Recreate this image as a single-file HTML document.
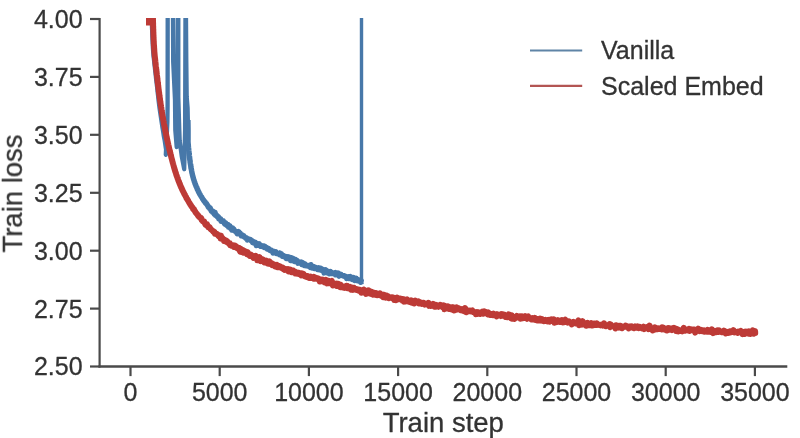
<!DOCTYPE html>
<html><head><meta charset="utf-8"><title>Train loss</title>
<style>
html,body{margin:0;padding:0;background:#fff;}
body{width:800px;height:438px;overflow:hidden;position:relative;font-family:"Liberation Sans",sans-serif;}
</style></head><body>
<svg width="800" height="438" viewBox="0 0 800 438" style="position:absolute;left:0;top:0;filter:blur(0.45px)">
<defs><clipPath id="c"><rect x="99.6" y="18.1" width="687.6999999999999" height="348.4"/></clipPath></defs>
<rect width="800" height="438" fill="#ffffff"/>
<g clip-path="url(#c)" fill="none" stroke-linejoin="round" stroke-linecap="butt">
<path d="M151.8,4.0 L151.8,8.0 L151.8,12.0 L151.8,16.0 L151.8,20.0 L151.9,24.0 L152.0,28.0 L152.2,32.0 L152.3,36.0 L152.5,40.0 L152.7,44.0 L152.9,48.0 L153.2,52.0 L153.5,56.0 L154.0,60.0 L154.4,64.0 L154.9,68.0 L155.3,72.0 L155.8,76.0 L156.2,80.0 L156.7,84.0 L157.2,88.0 L157.6,92.0 L158.1,96.0 L158.5,100.0 L159.0,104.0 L159.5,108.0 L160.1,112.0 L160.7,116.0 L161.3,120.0 L161.9,124.0 L162.5,128.0 L163.2,132.0 L163.8,136.0 L164.6,140.0 L165.2,144.0 L165.8,148.0 L166.5,152.0 L165.8,154.8 L167.4,122.0 L167.6,105.0 L167.7,4.0 L172.9,4.0 L173.2,62.0 L175.0,100.0 L175.3,130.0 L176.7,147.0 L177.9,4.0 L178.3,4.0 L178.3,97.0 L179.3,130.0 L179.7,141.0 L181.7,156.0 L184.2,169.2 L185.1,130.0 L185.5,4.0 L185.9,4.0 L186.3,62.0 L186.7,97.0 L187.6,108.0 L188.0,128.0 L188.0,140.0" stroke="#4778a9" stroke-width="4.3"/>
<path d="M187.9,120.0 L188.0,130.0 L188.0,142.3 L188.1,143.0 L188.1,143.5 L188.2,144.0 L188.2,144.7 L188.3,145.1 L188.3,145.9 L188.4,146.5 L188.4,147.1 L188.5,147.7 L188.6,148.2 L188.6,148.8 L188.7,149.3 L188.7,149.8 L188.8,150.6 L188.9,151.2 L188.9,151.7 L189.0,152.4 L189.0,153.0 L189.1,153.6 L189.2,154.1 L189.2,154.6 L189.3,155.4 L189.4,156.0 L189.5,156.5 L189.5,157.1 L189.6,157.7 L189.7,158.3 L189.7,158.9 L189.8,159.3 L189.9,160.2 L190.0,160.5 L190.1,161.2 L190.1,161.8 L190.2,162.5 L190.3,162.9 L190.4,163.7 L190.5,164.3 L190.6,164.9 L190.7,165.5 L190.8,165.9 L190.8,166.3 L190.9,167.2 L191.0,167.9 L191.1,168.4 L191.3,168.9 L191.4,169.5 L191.5,170.1 L191.6,170.5 L191.7,171.2 L191.8,171.8 L191.9,172.6 L192.0,172.9 L192.2,173.7 L192.3,174.1 L192.4,174.6 L192.6,175.5 L192.7,175.8 L192.9,176.5 L193.0,177.2 L193.2,177.5 L193.3,178.0 L193.5,178.8 L193.6,179.3 L193.8,179.8 L194.0,180.3 L194.2,181.0 L194.4,181.7 L194.6,182.1 L194.8,182.7 L195.0,183.4 L195.2,183.9 L195.4,184.5 L195.6,185.0 L195.8,185.3 L196.0,186.1 L196.2,186.6 L196.5,187.1 L196.7,187.6 L196.9,188.1 L197.2,188.7 L197.4,189.3 L197.7,189.7 L197.9,190.3 L198.2,190.9 L198.4,191.5 L198.7,192.0 L199.0,192.5 L199.3,193.2 L199.5,193.5 L199.8,194.2 L200.1,194.5 L200.4,195.2 L200.7,195.7 L201.0,196.2 L201.3,196.6 L201.6,197.0 L201.9,197.6 L202.3,198.1 L202.6,198.9 L202.9,199.4 L203.2,199.4 L203.6,200.3 L203.9,200.6 L204.3,201.3 L204.6,201.5 L205.0,201.7 L205.3,202.9 L205.7,203.2 L206.0,203.2 L206.4,203.5 L206.8,204.3 L207.1,204.6 L207.5,205.3 L207.9,206.1 L208.3,206.9 L208.6,206.7 L209.0,207.8 L209.4,208.2 L209.8,208.1 L210.2,208.0 L210.6,209.5 L211.0,209.8 L211.3,211.1 L211.7,211.1 L212.1,211.3 L212.5,212.2 L212.9,211.3 L213.4,212.3 L213.8,212.6 L214.2,214.0 L214.6,213.9 L215.0,212.4 L215.4,215.2 L215.8,214.3 L216.3,215.7 L216.7,215.4 L217.1,216.3 L217.5,216.9 L218.0,217.1 L218.4,216.8 L218.8,218.7 L219.3,218.4 L219.7,218.6 L220.2,219.5 L220.6,219.0 L221.0,221.1 L221.5,220.4 L221.9,220.9 L222.4,221.3 L222.8,220.7 L223.3,220.9 L223.7,222.3 L224.2,222.8 L224.7,224.0 L225.1,223.7 L225.6,222.8 L226.1,224.5 L226.5,225.1 L227.0,225.6 L227.5,225.5 L227.9,224.6 L228.4,226.9 L228.9,225.7 L229.4,227.1 L229.8,225.8 L230.3,228.0 L230.8,227.1 L231.3,229.0 L231.8,229.9 L232.2,229.7 L232.7,228.2 L233.2,228.8 L233.7,229.2 L234.2,230.7 L234.7,230.8 L235.2,231.0 L235.7,231.5 L236.2,232.0 L236.7,232.4 L237.2,233.6 L237.7,232.5 L238.2,233.0 L238.7,231.7 L239.2,232.5 L239.7,233.3 L240.2,233.2 L240.7,234.7 L241.2,235.6 L241.7,234.8 L242.2,235.1 L242.7,235.3 L243.2,236.2 L243.8,235.9 L244.3,237.0 L244.8,237.2 L245.3,237.6 L245.8,238.2 L246.3,237.9 L246.9,238.3 L247.4,239.9 L247.9,238.8 L248.4,239.7 L248.9,239.4 L249.5,239.3 L250.0,239.6 L250.5,239.6 L251.0,240.6 L251.6,240.4 L252.1,240.8 L252.6,242.4 L253.1,241.6 L253.7,242.9 L254.2,242.5 L254.7,243.2 L255.3,242.3 L255.8,243.2 L256.3,245.5 L256.8,244.3 L257.4,244.7 L257.9,244.4 L258.4,245.2 L259.0,243.8 L259.5,244.4 L260.0,245.6 L260.6,246.2 L261.1,245.5 L261.7,246.0 L262.2,246.1 L262.7,246.5 L263.3,245.9 L263.8,246.0 L264.3,247.4 L264.9,246.3 L265.4,247.2 L266.0,247.7 L266.5,247.6 L267.1,248.9 L267.6,248.6 L268.1,249.2 L268.7,248.7 L269.2,249.1 L269.8,250.4 L270.3,250.5 L270.9,250.1 L271.4,251.0 L271.9,251.1 L272.5,251.4 L273.0,252.8 L273.6,251.4 L274.1,252.3 L274.7,252.6 L275.2,252.3 L275.8,251.8 L276.3,253.5 L276.9,253.4 L277.4,253.5 L278.0,253.7 L278.5,253.9 L279.1,253.4 L279.6,254.6 L280.2,253.2 L280.7,254.8 L281.3,253.9 L281.8,255.0 L282.4,256.1 L282.9,255.6 L283.5,255.6 L284.0,256.7 L284.6,256.3 L285.1,256.4 L285.7,256.6 L286.3,258.4 L286.8,257.9 L287.4,258.0 L287.9,256.9 L288.5,258.6 L289.0,257.2 L289.6,258.9 L290.2,257.8 L290.7,260.5 L291.3,257.8 L291.8,260.4 L292.4,260.2 L292.9,258.4 L293.5,259.8 L294.1,261.4 L294.6,261.4 L295.2,259.3 L295.7,260.5 L296.3,260.2 L296.9,260.5 L297.4,261.0 L298.0,263.2 L298.6,262.0 L299.1,262.0 L299.7,262.1 L300.2,263.1 L300.8,263.3 L301.4,262.2 L301.9,264.4 L302.5,262.5 L303.1,263.4 L303.6,264.1 L304.2,265.4 L304.8,263.9 L305.3,264.6 L305.9,265.6 L306.5,265.3 L307.0,265.9 L307.6,266.0 L308.2,265.6 L308.7,266.1 L309.3,266.5 L309.9,265.9 L310.4,267.4 L311.0,264.8 L311.6,265.8 L312.1,267.9 L312.7,267.3 L313.3,266.6 L313.8,267.6 L314.4,268.4 L315.0,267.2 L315.5,268.5 L316.1,268.0 L316.7,268.1 L317.3,268.4 L317.8,269.5 L318.4,267.9 L319.0,268.7 L319.5,269.7 L320.1,268.4 L320.7,268.3 L321.3,270.2 L321.8,269.9 L322.4,269.9 L323.0,270.4 L323.5,269.6 L324.1,272.9 L324.7,270.0 L325.3,270.6 L325.8,270.0 L326.4,271.0 L327.0,272.7 L327.6,271.7 L328.1,272.3 L328.7,271.6 L329.3,273.6 L329.9,272.5 L330.4,271.5 L331.0,273.3 L331.6,272.5 L332.2,273.5 L332.7,273.3 L333.3,273.5 L333.9,273.6 L334.5,272.9 L335.1,272.6 L335.6,274.8 L336.2,274.0 L336.8,274.5 L337.4,274.1 L337.9,273.0 L338.5,273.8 L339.1,276.1 L339.7,274.5 L340.3,275.0 L340.8,274.3 L341.4,275.2 L342.0,275.5 L342.6,275.7 L343.1,276.0 L343.7,275.7 L344.3,275.9 L344.9,276.5 L345.5,276.9 L346.0,276.7 L346.6,278.4 L347.2,277.3 L347.8,277.4 L348.4,276.9 L348.9,278.4 L349.5,276.9 L350.1,276.6 L350.7,277.3 L351.3,278.7 L351.9,277.4 L352.4,279.5 L353.0,278.6 L353.6,277.6 L354.2,278.7 L354.8,280.5 L355.3,278.5 L355.9,278.3 L356.5,279.9 L357.1,280.7 L357.7,280.6 L358.3,279.7 L358.8,280.2 L359.4,280.5 L360.0,281.3 L360.6,282.2 L361.2,280.5 L361.3,281.7 L363.2,281.3" stroke="#4778a9" stroke-width="5.5"/>
<path d="M361.5,283.6 L361.5,4" stroke="#4778a9" stroke-width="3.4"/>
<path d="M152.7,4.0 L152.9,14.0 L153.0,21.3 L153.0,22.0 L153.0,22.6 L153.1,23.0 L153.1,23.6 L153.1,24.2 L153.1,24.9 L153.1,25.4 L153.1,26.1 L153.2,26.5 L153.2,27.4 L153.2,27.8 L153.2,28.5 L153.2,29.0 L153.3,29.6 L153.3,30.3 L153.3,30.9 L153.3,31.4 L153.3,32.0 L153.4,32.7 L153.4,33.1 L153.4,33.7 L153.4,34.5 L153.5,35.0 L153.5,35.4 L153.5,36.1 L153.5,36.8 L153.6,37.3 L153.6,37.9 L153.6,38.6 L153.6,39.3 L153.7,39.8 L153.7,40.3 L153.7,41.0 L153.8,41.7 L153.8,42.2 L153.8,42.9 L153.8,43.5 L153.9,44.0 L153.9,44.5 L153.9,45.2 L154.0,45.8 L154.0,46.5 L154.1,46.8 L154.1,47.5 L154.1,48.1 L154.2,48.6 L154.2,49.4 L154.3,50.0 L154.3,50.5 L154.3,51.3 L154.4,51.8 L154.4,52.4 L154.5,52.9 L154.5,53.6 L154.6,53.9 L154.6,54.7 L154.7,55.3 L154.7,55.7 L154.8,56.5 L154.9,57.0 L154.9,57.7 L155.0,58.2 L155.1,58.8 L155.1,59.4 L155.2,59.9 L155.3,60.7 L155.3,61.2 L155.4,61.8 L155.5,62.3 L155.5,63.1 L155.6,63.6 L155.7,64.2 L155.7,64.8 L155.8,65.5 L155.9,66.1 L155.9,66.4 L156.0,67.2 L156.1,67.8 L156.1,68.3 L156.2,68.8 L156.3,69.7 L156.4,70.0 L156.4,70.8 L156.5,71.5 L156.6,71.8 L156.6,72.5 L156.7,73.0 L156.8,73.7 L156.8,74.5 L156.9,75.1 L157.0,75.3 L157.0,76.0 L157.1,76.8 L157.2,77.4 L157.3,77.9 L157.3,78.4 L157.4,79.1 L157.5,79.7 L157.5,80.2 L157.6,80.8 L157.7,81.5 L157.7,82.1 L157.8,82.6 L157.9,83.2 L158.0,83.7 L158.0,84.4 L158.1,85.1 L158.2,85.6 L158.3,86.1 L158.3,86.9 L158.4,87.4 L158.5,88.2 L158.5,88.6 L158.6,89.1 L158.7,89.6 L158.8,90.5 L158.8,91.2 L158.9,91.5 L159.0,92.1 L159.1,92.8 L159.2,93.2 L159.2,93.9 L159.3,94.5 L159.4,95.1 L159.5,95.8 L159.6,96.3 L159.6,97.0 L159.7,97.4 L159.8,98.1 L159.9,98.4 L160.0,99.1 L160.0,99.9 L160.1,100.4 L160.2,101.1 L160.3,101.7 L160.4,102.4 L160.5,102.9 L160.6,103.5 L160.6,104.0 L160.7,104.5 L160.8,105.1 L160.9,105.7 L161.0,106.2 L161.1,106.9 L161.2,107.5 L161.3,108.2 L161.4,108.7 L161.5,109.1 L161.6,109.9 L161.7,110.5 L161.8,111.2 L161.9,111.7 L161.9,112.2 L162.0,112.8 L162.1,113.7 L162.2,114.1 L162.3,114.8 L162.4,115.4 L162.5,115.7 L162.6,116.4 L162.8,117.0 L162.9,117.6 L163.0,118.2 L163.1,118.8 L163.2,119.4 L163.3,119.8 L163.4,120.5 L163.5,121.0 L163.6,121.7 L163.7,122.2 L163.8,122.9 L163.9,123.5 L164.0,124.1 L164.2,124.7 L164.3,125.2 L164.4,125.8 L164.5,126.4 L164.6,126.9 L164.7,127.6 L164.8,128.2 L165.0,128.8 L165.1,129.2 L165.2,130.0 L165.3,130.4 L165.4,131.0 L165.5,131.7 L165.7,132.2 L165.8,132.9 L165.9,133.4 L166.0,133.9 L166.1,134.5 L166.3,135.3 L166.4,135.8 L166.5,136.3 L166.6,137.0 L166.8,137.4 L166.9,138.3 L167.0,138.6 L167.1,139.4 L167.3,139.9 L167.4,140.3 L167.5,141.1 L167.7,141.8 L167.8,142.3 L167.9,142.8 L168.0,143.5 L168.2,144.0 L168.3,144.6 L168.4,145.1 L168.6,145.8 L168.7,146.2 L168.8,147.0 L169.0,147.4 L169.1,148.0 L169.2,148.7 L169.4,149.4 L169.5,149.9 L169.7,150.4 L169.8,151.1 L169.9,151.5 L170.1,152.1 L170.2,152.7 L170.4,153.1 L170.5,153.9 L170.6,154.4 L170.8,155.0 L170.9,155.5 L171.1,156.1 L171.2,156.7 L171.4,157.5 L171.5,158.1 L171.7,158.5 L171.8,159.2 L172.0,159.7 L172.1,160.1 L172.3,160.9 L172.4,161.5 L172.6,162.0 L172.7,162.6 L172.9,163.2 L173.1,163.7 L173.2,164.2 L173.4,164.9 L173.5,165.4 L173.7,166.0 L173.9,166.7 L174.0,167.4 L174.2,167.7 L174.4,168.4 L174.5,169.0 L174.7,169.6 L174.9,170.2 L175.1,170.6 L175.2,171.3 L175.4,172.0 L175.6,172.4 L175.8,172.8 L176.0,173.5 L176.1,174.2 L176.3,174.7 L176.5,175.1 L176.7,175.9 L176.9,176.2 L177.1,176.9 L177.3,177.4 L177.5,177.9 L177.7,178.7 L177.9,179.2 L178.1,179.6 L178.3,180.3 L178.5,180.8 L178.7,181.2 L178.9,181.8 L179.2,182.5 L179.4,183.1 L179.6,183.6 L179.8,184.1 L180.1,184.7 L180.3,185.2 L180.5,185.9 L180.8,186.3 L181.0,186.9 L181.2,187.5 L181.5,187.9 L181.7,188.4 L182.0,189.2 L182.2,189.6 L182.5,190.1 L182.7,190.7 L183.0,191.2 L183.3,191.8 L183.5,192.2 L183.8,192.8 L184.1,193.2 L184.3,194.0 L184.6,194.4 L184.9,194.8 L185.2,195.5 L185.5,196.0 L185.7,196.5 L186.0,196.9 L186.3,197.6 L186.6,198.5 L186.9,198.5 L187.2,199.2 L187.5,199.6 L187.8,200.2 L188.1,200.5 L188.4,201.1 L188.7,201.8 L189.0,202.2 L189.3,202.9 L189.6,203.2 L190.0,203.8 L190.3,204.6 L190.6,204.7 L190.9,205.2 L191.2,205.8 L191.6,206.3 L191.9,206.9 L192.2,207.3 L192.6,207.6 L192.9,208.3 L193.2,209.2 L193.6,209.5 L193.9,209.2 L194.3,210.2 L194.6,210.5 L195.0,211.3 L195.3,211.6 L195.7,212.6 L196.0,212.9 L196.4,213.3 L196.8,213.6 L197.1,214.1 L197.5,214.6 L197.9,215.4 L198.2,215.6 L198.6,215.8 L199.0,216.8 L199.4,216.9 L199.7,217.3 L200.1,217.5 L200.5,218.1 L200.9,218.5 L201.3,218.2 L201.7,220.0 L202.1,220.3 L202.5,220.4 L202.9,221.4 L203.3,221.6 L203.7,222.0 L204.1,221.3 L204.5,222.6 L204.9,223.4 L205.3,224.3 L205.7,224.8 L206.1,225.1 L206.5,224.4 L207.0,224.3 L207.4,226.0 L207.8,226.2 L208.2,227.1 L208.7,226.9 L209.1,227.5 L209.5,227.1 L210.0,228.5 L210.4,228.4 L210.8,229.3 L211.3,229.7 L211.7,229.8 L212.2,230.5 L212.6,230.7 L213.1,231.5 L213.5,231.8 L214.0,231.5 L214.4,231.9 L214.9,233.7 L215.3,233.0 L215.8,234.1 L216.3,234.0 L216.7,233.8 L217.2,234.0 L217.6,235.0 L218.1,235.5 L218.6,236.1 L219.1,235.1 L219.5,236.0 L220.0,236.7 L220.5,238.3 L221.0,235.7 L221.4,238.2 L221.9,237.8 L222.4,238.9 L222.9,238.5 L223.4,239.6 L223.9,240.9 L224.3,240.3 L224.8,240.7 L225.3,241.0 L225.8,240.4 L226.3,241.8 L226.8,241.5 L227.3,241.3 L227.8,242.3 L228.3,242.5 L228.8,243.6 L229.3,243.3 L229.8,243.2 L230.3,245.2 L230.8,245.1 L231.3,245.7 L231.8,245.4 L232.3,245.1 L232.9,245.2 L233.4,245.6 L233.9,247.0 L234.4,246.6 L234.9,245.5 L235.4,247.1 L235.9,246.2 L236.5,247.8 L237.0,247.0 L237.5,247.2 L238.0,248.7 L238.5,248.8 L239.1,247.8 L239.6,250.1 L240.1,251.6 L240.6,248.8 L241.2,251.9 L241.7,250.0 L242.2,250.5 L242.8,251.0 L243.3,250.2 L243.8,252.8 L244.4,252.4 L244.9,251.7 L245.4,252.3 L246.0,251.6 L246.5,252.8 L247.0,254.2 L247.6,252.2 L248.1,253.5 L248.6,254.3 L249.2,255.3 L249.7,255.9 L250.3,254.6 L250.8,254.6 L251.3,255.9 L251.9,255.4 L252.4,255.7 L253.0,257.2 L253.5,257.9 L254.1,257.0 L254.6,256.8 L255.1,257.7 L255.7,255.9 L256.2,257.7 L256.8,257.1 L257.3,260.3 L257.9,259.1 L258.4,258.8 L259.0,258.8 L259.5,257.1 L260.1,260.0 L260.6,261.1 L261.2,259.3 L261.7,260.7 L262.3,261.0 L262.8,259.3 L263.4,261.6 L263.9,262.2 L264.5,261.5 L265.1,261.5 L265.6,262.4 L266.2,260.7 L266.7,262.3 L267.3,263.3 L267.8,261.6 L268.4,263.7 L268.9,262.7 L269.5,261.5 L270.1,263.4 L270.6,262.9 L271.2,264.2 L271.7,263.2 L272.3,265.3 L272.9,264.0 L273.4,265.1 L274.0,264.5 L274.5,265.0 L275.1,266.5 L275.7,265.9 L276.2,265.5 L276.8,265.0 L277.4,267.3 L277.9,267.1 L278.5,266.4 L279.0,267.1 L279.6,266.2 L280.2,266.5 L280.7,266.8 L281.3,268.0 L281.9,268.2 L282.4,267.5 L283.0,268.9 L283.6,269.2 L284.1,268.9 L284.7,269.8 L285.3,268.9 L285.8,269.2 L286.4,269.9 L287.0,269.7 L287.5,270.6 L288.1,269.0 L288.7,271.5 L289.2,269.8 L289.8,270.5 L290.4,269.7 L290.9,271.6 L291.5,272.3 L292.1,272.3 L292.7,272.3 L293.2,270.5 L293.8,271.3 L294.4,271.8 L294.9,271.6 L295.5,273.5 L296.1,272.9 L296.7,272.9 L297.2,273.5 L297.8,272.5 L298.4,272.7 L298.9,272.9 L299.5,274.2 L300.1,274.3 L300.7,274.7 L301.2,275.3 L301.8,273.4 L302.4,274.2 L302.9,275.0 L303.5,273.9 L304.1,274.8 L304.7,276.3 L305.2,276.5 L305.8,276.7 L306.4,276.0 L307.0,275.9 L307.5,277.2 L308.1,276.2 L308.7,276.9 L309.3,277.9 L309.8,276.7 L310.4,276.6 L311.0,277.3 L311.6,278.0 L312.1,278.1 L312.7,278.0 L313.3,278.5 L313.9,276.8 L314.4,277.6 L315.0,278.7 L315.6,277.9 L316.2,277.7 L316.7,278.0 L317.3,278.4 L317.9,279.2 L318.5,278.6 L319.0,279.9 L319.6,281.3 L320.2,279.9 L320.8,281.3 L321.4,280.6 L321.9,279.5 L322.5,280.4 L323.1,280.0 L323.7,281.6 L324.2,280.2 L324.8,282.4 L325.4,282.0 L326.0,279.9 L326.6,282.5 L327.1,283.3 L327.7,281.4 L328.3,283.1 L328.9,280.9 L329.4,282.8 L330.0,281.3 L330.6,283.3 L331.2,281.5 L331.8,281.0 L332.3,283.7 L332.9,285.5 L333.5,283.2 L334.1,284.6 L334.7,284.1 L335.2,283.9 L335.8,284.8 L336.4,285.9 L337.0,283.6 L337.6,285.3 L338.1,285.2 L338.7,283.9 L339.3,286.6 L339.9,287.0 L340.5,284.7 L341.0,287.2 L341.6,285.9 L342.2,285.9 L342.8,287.4 L343.4,286.5 L343.9,286.7 L344.5,287.9 L345.1,287.8 L345.7,287.6 L346.3,285.8 L346.8,285.8 L347.4,288.3 L348.0,286.7 L348.6,287.7 L349.2,286.9 L349.8,287.8 L350.3,287.0 L350.9,289.6 L351.5,287.5 L352.1,288.4 L352.7,288.5 L353.2,289.8 L353.8,287.7 L354.4,289.0 L355.0,289.0 L355.6,289.8 L356.2,289.9 L356.7,289.2 L357.3,290.0 L357.9,289.6 L358.5,290.5 L359.1,290.1 L359.7,289.8 L360.2,290.5 L360.8,290.9 L361.4,292.7 L362.0,290.5 L362.6,291.3 L363.2,292.4 L363.7,289.5 L364.3,290.0 L364.9,290.6 L365.5,291.6 L366.1,293.9 L366.7,292.3 L367.3,293.2 L367.8,292.1 L368.4,290.3 L369.0,290.6 L369.6,293.5 L370.2,293.0 L370.8,291.8 L371.3,294.0 L371.9,291.9 L372.5,294.3 L373.1,294.7 L373.7,292.9 L374.3,292.8 L374.9,294.6 L375.4,293.1 L376.0,294.8 L376.6,293.2 L377.2,295.1 L377.8,294.6 L378.4,294.3 L379.0,294.0 L379.5,295.1 L380.1,293.4 L380.7,294.9 L381.3,294.9 L381.9,296.0 L382.5,294.5 L383.1,297.1 L383.7,295.5 L384.2,294.9 L384.8,297.2 L385.4,297.6 L386.0,296.1 L386.6,295.6 L387.2,296.5 L387.8,296.1 L388.3,296.5 L388.9,298.2 L389.5,297.4 L390.1,297.3 L390.7,297.6 L391.3,297.3 L391.9,298.2 L392.5,298.4 L393.0,297.4 L393.6,298.0 L394.2,300.0 L394.8,298.5 L395.4,298.1 L396.0,300.1 L396.6,298.5 L397.2,297.7 L397.7,299.3 L398.3,298.1 L398.9,298.5 L399.5,299.3 L400.1,299.1 L400.7,298.6 L401.3,298.9 L401.9,299.0 L402.5,300.6 L403.0,299.1 L403.6,299.4 L404.2,301.7 L404.8,299.6 L405.4,301.5 L406.0,301.4 L406.6,300.3 L407.2,299.4 L407.8,301.1 L408.3,301.4 L408.9,301.7 L409.5,301.1 L410.1,302.1 L410.7,302.4 L411.3,300.4 L411.9,302.7 L412.5,301.7 L413.1,301.2 L413.7,301.5 L414.2,303.5 L414.8,302.8 L415.4,300.6 L416.0,302.3 L416.6,302.2 L417.2,302.3 L417.8,302.1 L418.4,301.4 L419.0,303.5 L419.6,302.1 L420.1,302.7 L420.7,302.6 L421.3,302.6 L421.9,303.9 L422.5,303.7 L423.1,302.9 L423.7,302.8 L424.3,303.3 L424.9,304.6 L425.5,304.0 L426.1,304.2 L426.6,303.9 L427.2,304.0 L427.8,304.5 L428.4,302.9 L429.0,305.9 L429.6,304.0 L430.2,304.3 L430.8,306.0 L431.4,305.1 L432.0,305.1 L432.6,304.7 L433.1,303.9 L433.7,305.5 L434.3,306.5 L434.9,304.8 L435.5,306.8 L436.1,304.8 L436.7,305.2 L437.3,306.4 L437.9,306.1 L438.5,306.7 L439.1,305.6 L439.7,305.5 L440.2,304.9 L440.8,305.5 L441.4,305.7 L442.0,305.5 L442.6,307.1 L443.2,306.4 L443.8,305.3 L444.4,309.2 L445.0,306.5 L445.6,306.3 L446.2,308.5 L446.8,308.5 L447.4,306.6 L447.9,306.4 L448.5,306.9 L449.1,308.8 L449.7,307.7 L450.3,307.4 L450.9,308.1 L451.5,309.3 L452.1,307.2 L452.7,308.1 L453.3,307.4 L453.9,310.5 L454.5,310.3 L455.1,309.6 L455.7,308.8 L456.2,309.6 L456.8,307.3 L457.4,309.4 L458.0,308.1 L458.6,308.2 L459.2,308.8 L459.8,309.2 L460.4,310.1 L461.0,310.3 L461.6,310.0 L462.2,309.1 L462.8,310.6 L463.4,310.0 L464.0,311.2 L464.6,309.5 L465.1,308.0 L465.7,310.0 L466.3,312.3 L466.9,311.0 L467.5,310.5 L468.1,311.5 L468.7,311.3 L469.3,311.3 L469.9,310.6 L470.5,311.2 L471.1,311.4 L471.7,310.7 L472.3,310.4 L472.9,311.6 L473.5,312.3 L474.1,312.2 L474.6,312.1 L475.2,312.2 L475.8,314.1 L476.4,312.2 L477.0,312.9 L477.6,313.8 L478.2,312.2 L478.8,312.5 L479.4,313.2 L480.0,313.9 L480.6,312.8 L481.2,312.9 L481.8,312.8 L482.4,311.7 L483.0,313.8 L483.6,312.7 L484.2,311.5 L484.8,313.0 L485.3,311.7 L485.9,312.4 L486.5,313.3 L487.1,312.6 L487.7,314.4 L488.3,312.3 L488.9,313.9 L489.5,314.2 L490.1,315.0 L490.7,314.7 L491.3,314.1 L491.9,314.1 L492.5,314.1 L493.1,315.1 L493.7,313.7 L494.3,314.8 L494.9,314.3 L495.5,314.7 L496.1,314.3 L496.7,316.4 L497.2,314.2 L497.8,315.0 L498.4,315.1 L499.0,315.5 L499.6,315.4 L500.2,315.4 L500.8,316.0 L501.4,314.0 L502.0,315.3 L502.6,314.3 L503.2,315.6 L503.8,314.5 L504.4,314.8 L505.0,315.6 L505.6,316.9 L506.2,316.3 L506.8,316.1 L507.4,317.2 L508.0,315.2 L508.6,314.3 L509.2,315.8 L509.8,316.0 L510.3,317.4 L510.9,318.2 L511.5,315.3 L512.1,318.6 L512.7,317.9 L513.3,317.4 L513.9,317.0 L514.5,318.9 L515.1,316.9 L515.7,316.5 L516.3,317.1 L516.9,315.9 L517.5,317.5 L518.1,317.1 L518.7,317.6 L519.3,317.7 L519.9,316.5 L520.5,318.6 L521.1,316.7 L521.7,318.4 L522.3,316.3 L522.9,318.1 L523.5,317.1 L524.1,317.9 L524.7,317.4 L525.3,316.2 L525.8,317.1 L526.4,318.2 L527.0,318.7 L527.6,317.0 L528.2,316.5 L528.8,317.7 L529.4,318.3 L530.0,318.0 L530.6,317.9 L531.2,319.4 L531.8,319.6 L532.4,319.4 L533.0,318.1 L533.6,319.0 L534.2,318.8 L534.8,317.8 L535.4,319.9 L536.0,319.2 L536.6,318.8 L537.2,320.5 L537.8,320.0 L538.4,320.1 L539.0,320.5 L539.6,320.2 L540.2,318.5 L540.8,319.3 L541.4,320.6 L542.0,319.1 L542.6,319.9 L543.2,320.2 L543.7,321.2 L544.3,321.1 L544.9,320.9 L545.5,320.0 L546.1,321.0 L546.7,320.7 L547.3,320.2 L547.9,321.5 L548.5,320.9 L549.1,319.9 L549.7,321.6 L550.3,320.4 L550.9,321.2 L551.5,319.4 L552.1,320.8 L552.7,320.0 L553.3,320.1 L553.9,319.3 L554.5,322.8 L555.1,321.0 L555.7,321.3 L556.3,322.1 L556.9,321.1 L557.5,321.7 L558.1,320.2 L558.7,321.6 L559.3,321.1 L559.9,322.0 L560.5,321.7 L561.1,320.5 L561.7,320.1 L562.3,320.9 L562.9,322.4 L563.5,322.2 L564.1,322.3 L564.7,320.2 L565.2,319.7 L565.8,321.5 L566.4,321.8 L567.0,321.7 L567.6,322.5 L568.2,322.1 L568.8,321.3 L569.4,321.6 L570.0,322.6 L570.6,322.6 L571.2,322.5 L571.8,324.5 L572.4,322.4 L573.0,322.8 L573.6,321.9 L574.2,322.5 L574.8,323.3 L575.4,323.4 L576.0,322.8 L576.6,323.4 L577.2,323.1 L577.8,321.5 L578.4,320.4 L579.0,325.2 L579.6,324.0 L580.2,323.3 L580.8,321.9 L581.4,322.3 L582.0,324.6 L582.6,321.1 L583.2,323.3 L583.8,324.4 L584.4,323.8 L585.0,324.4 L585.6,323.7 L586.2,325.8 L586.8,323.0 L587.4,322.8 L588.0,324.2 L588.6,325.2 L589.2,324.0 L589.8,325.0 L590.4,323.7 L591.0,323.2 L591.6,325.4 L592.2,325.6 L592.8,325.6 L593.3,324.0 L593.9,323.5 L594.5,323.5 L595.1,324.3 L595.7,325.1 L596.3,325.1 L596.9,323.4 L597.5,324.9 L598.1,324.8 L598.7,324.9 L599.3,324.8 L599.9,324.7 L600.5,325.4 L601.1,325.1 L601.7,325.2 L602.3,324.5 L602.9,325.5 L603.5,325.1 L604.1,323.4 L604.7,325.7 L605.3,325.1 L605.9,326.1 L606.5,325.3 L607.1,325.4 L607.7,325.7 L608.3,325.5 L608.9,325.2 L609.5,324.1 L610.1,327.2 L610.7,324.4 L611.3,325.4 L611.9,326.3 L612.5,326.1 L613.1,326.3 L613.7,326.6 L614.3,327.0 L614.9,326.2 L615.5,328.5 L616.1,325.2 L616.7,326.3 L617.3,325.9 L617.9,325.7 L618.5,326.5 L619.1,327.5 L619.7,325.7 L620.3,325.8 L620.9,327.0 L621.5,326.9 L622.1,328.2 L622.7,327.4 L623.3,326.8 L623.9,326.3 L624.5,326.8 L625.1,326.5 L625.7,325.6 L626.3,326.8 L626.9,326.7 L627.5,326.6 L628.1,326.5 L628.7,328.4 L629.3,327.6 L629.9,327.8 L630.5,326.5 L631.1,326.2 L631.7,326.9 L632.3,327.4 L632.8,326.9 L633.4,327.1 L634.0,328.1 L634.6,327.6 L635.2,326.5 L635.8,327.0 L636.4,326.9 L637.0,327.6 L637.6,326.5 L638.2,327.4 L638.8,328.2 L639.4,327.6 L640.0,326.9 L640.6,327.2 L641.2,327.8 L641.8,328.2 L642.4,328.5 L643.0,327.7 L643.6,326.7 L644.2,329.1 L644.8,328.2 L645.4,328.3 L646.0,328.3 L646.6,327.2 L647.2,327.8 L647.8,328.3 L648.4,329.0 L649.0,328.2 L649.6,325.6 L650.2,328.0 L650.8,328.6 L651.4,329.4 L652.0,329.0 L652.6,330.5 L653.2,329.6 L653.8,329.6 L654.4,329.3 L655.0,327.4 L655.6,329.3 L656.2,329.1 L656.8,328.2 L657.4,329.2 L658.0,329.1 L658.6,328.3 L659.2,328.7 L659.8,328.6 L660.4,329.0 L661.0,328.5 L661.6,329.4 L662.2,327.3 L662.8,328.7 L663.4,327.6 L664.0,328.6 L664.6,329.5 L665.2,329.1 L665.8,329.0 L666.4,329.2 L667.0,330.5 L667.6,328.3 L668.2,330.0 L668.8,328.0 L669.4,328.9 L670.0,329.5 L670.6,328.6 L671.2,329.6 L671.8,330.0 L672.4,328.4 L673.0,329.4 L673.6,329.2 L674.2,327.9 L674.8,329.4 L675.4,328.9 L676.0,330.8 L676.6,328.9 L677.2,331.1 L677.8,329.3 L678.4,331.4 L679.0,330.2 L679.6,330.2 L680.2,330.5 L680.8,330.6 L681.4,331.1 L682.0,331.4 L682.6,329.7 L683.2,328.9 L683.8,327.8 L684.4,329.7 L685.0,330.7 L685.6,330.4 L686.2,330.2 L686.8,329.9 L687.4,329.6 L688.0,330.0 L688.6,330.6 L689.2,328.8 L689.8,330.9 L690.4,329.1 L691.0,330.2 L691.6,329.8 L692.2,330.1 L692.8,329.5 L693.4,329.5 L694.0,330.3 L694.6,329.6 L695.2,332.6 L695.8,330.2 L696.4,330.0 L697.0,330.2 L697.6,329.7 L698.2,328.6 L698.8,330.5 L699.4,331.0 L700.0,329.5 L700.6,330.8 L701.2,329.8 L701.8,330.8 L702.4,331.2 L703.0,331.3 L703.5,331.3 L704.1,330.3 L704.7,331.7 L705.3,330.6 L705.9,331.3 L706.5,331.6 L707.1,330.8 L707.7,330.0 L708.3,331.6 L708.9,330.2 L709.5,330.4 L710.1,330.2 L710.7,331.9 L711.3,331.1 L711.9,329.3 L712.5,331.9 L713.1,333.1 L713.7,332.8 L714.3,330.9 L714.9,331.4 L715.5,331.8 L716.1,332.2 L716.7,331.5 L717.3,330.5 L717.9,332.1 L718.5,332.0 L719.1,330.4 L719.7,331.2 L720.3,331.8 L720.9,331.6 L721.5,332.1 L722.1,332.3 L722.7,332.1 L723.3,331.6 L723.9,330.6 L724.5,332.2 L725.1,332.9 L725.7,333.4 L726.3,331.8 L726.9,331.8 L727.5,333.1 L728.1,333.1 L728.7,332.2 L729.3,332.5 L729.9,331.3 L730.5,332.4 L731.1,331.3 L731.7,331.9 L732.3,331.9 L732.9,331.6 L733.5,330.2 L734.1,331.4 L734.7,332.4 L735.3,332.1 L735.9,331.8 L736.5,332.5 L737.1,332.7 L737.7,332.9 L738.3,331.5 L738.9,332.2 L739.5,332.0 L740.1,331.5 L740.7,331.0 L741.3,332.2 L741.9,331.6 L742.5,334.2 L743.1,332.3 L743.7,332.2 L744.3,332.1 L744.9,334.0 L745.5,331.6 L746.1,332.3 L746.7,331.8 L747.3,332.4 L747.9,332.5 L748.5,333.5 L749.1,331.3 L749.7,332.5 L750.3,334.0 L750.9,332.2 L751.5,332.5 L752.1,331.9 L752.7,330.4 L753.3,332.6 L753.9,333.7 L754.5,332.3 L755.1,331.2 L755.2,333.0" stroke="#bd3a36" stroke-width="6.0" stroke-linecap="round"/>
<rect x="146" y="17" width="6" height="8.5" fill="#bd3a36"/>
</g>
<g stroke="#4a4a4a" stroke-width="2.2" fill="none" stroke-linecap="butt">
<path d="M99.6,17.9 L99.6,367.6"/>
<path d="M98.5,366.5 L787.3,366.5" stroke-width="2.5"/>
<path d="M130.5,366.5 L130.5,376.1"/>
<path d="M219.7,366.5 L219.7,376.1"/>
<path d="M308.9,366.5 L308.9,376.1"/>
<path d="M398.1,366.5 L398.1,376.1"/>
<path d="M487.3,366.5 L487.3,376.1"/>
<path d="M576.5,366.5 L576.5,376.1"/>
<path d="M665.7,366.5 L665.7,376.1"/>
<path d="M754.9,366.5 L754.9,376.1"/>
<path d="M90.0,19.0 L99.6,19.0"/>
<path d="M90.0,76.9 L99.6,76.9"/>
<path d="M90.0,134.8 L99.6,134.8"/>
<path d="M90.0,192.8 L99.6,192.8"/>
<path d="M90.0,250.7 L99.6,250.7"/>
<path d="M90.0,308.6 L99.6,308.6"/>
<path d="M90.0,366.5 L99.6,366.5"/>
</g>
<path d="M530,50.5 L582.2,50.5" stroke="#5f84a6" stroke-width="2.2" fill="none"/>
<path d="M530,85.8 L582.2,85.8" stroke="#b35553" stroke-width="2.2" fill="none"/>
<g font-family="'Liberation Sans', sans-serif" fill="#333333" stroke="#333333" stroke-width="0.3" stroke-linejoin="round" font-size="25.0px" opacity="0.999">
<text x="130.5" y="400.5" text-anchor="middle">0</text>
<text x="219.7" y="400.5" text-anchor="middle">5000</text>
<text x="308.9" y="400.5" text-anchor="middle">10000</text>
<text x="398.1" y="400.5" text-anchor="middle">15000</text>
<text x="487.3" y="400.5" text-anchor="middle">20000</text>
<text x="576.5" y="400.5" text-anchor="middle">25000</text>
<text x="665.7" y="400.5" text-anchor="middle">30000</text>
<text x="754.9" y="400.5" text-anchor="middle">35000</text>
<text x="82.6" y="27.9" text-anchor="end">4.00</text>
<text x="82.6" y="85.8" text-anchor="end">3.75</text>
<text x="82.6" y="143.7" text-anchor="end">3.50</text>
<text x="82.6" y="201.7" text-anchor="end">3.25</text>
<text x="82.6" y="259.6" text-anchor="end">3.00</text>
<text x="82.6" y="317.5" text-anchor="end">2.75</text>
<text x="82.6" y="375.4" text-anchor="end">2.50</text>
<text x="601" y="59.2">Vanilla</text>
<text x="601" y="95.0">Scaled Embed</text>
<text x="443.3" y="432" text-anchor="middle" font-size="27.5px">Train step</text>
<text transform="translate(21.9,193.5) rotate(-90)" text-anchor="middle" font-size="27.5px">Train loss</text>
</g>
</svg>
</body></html>
